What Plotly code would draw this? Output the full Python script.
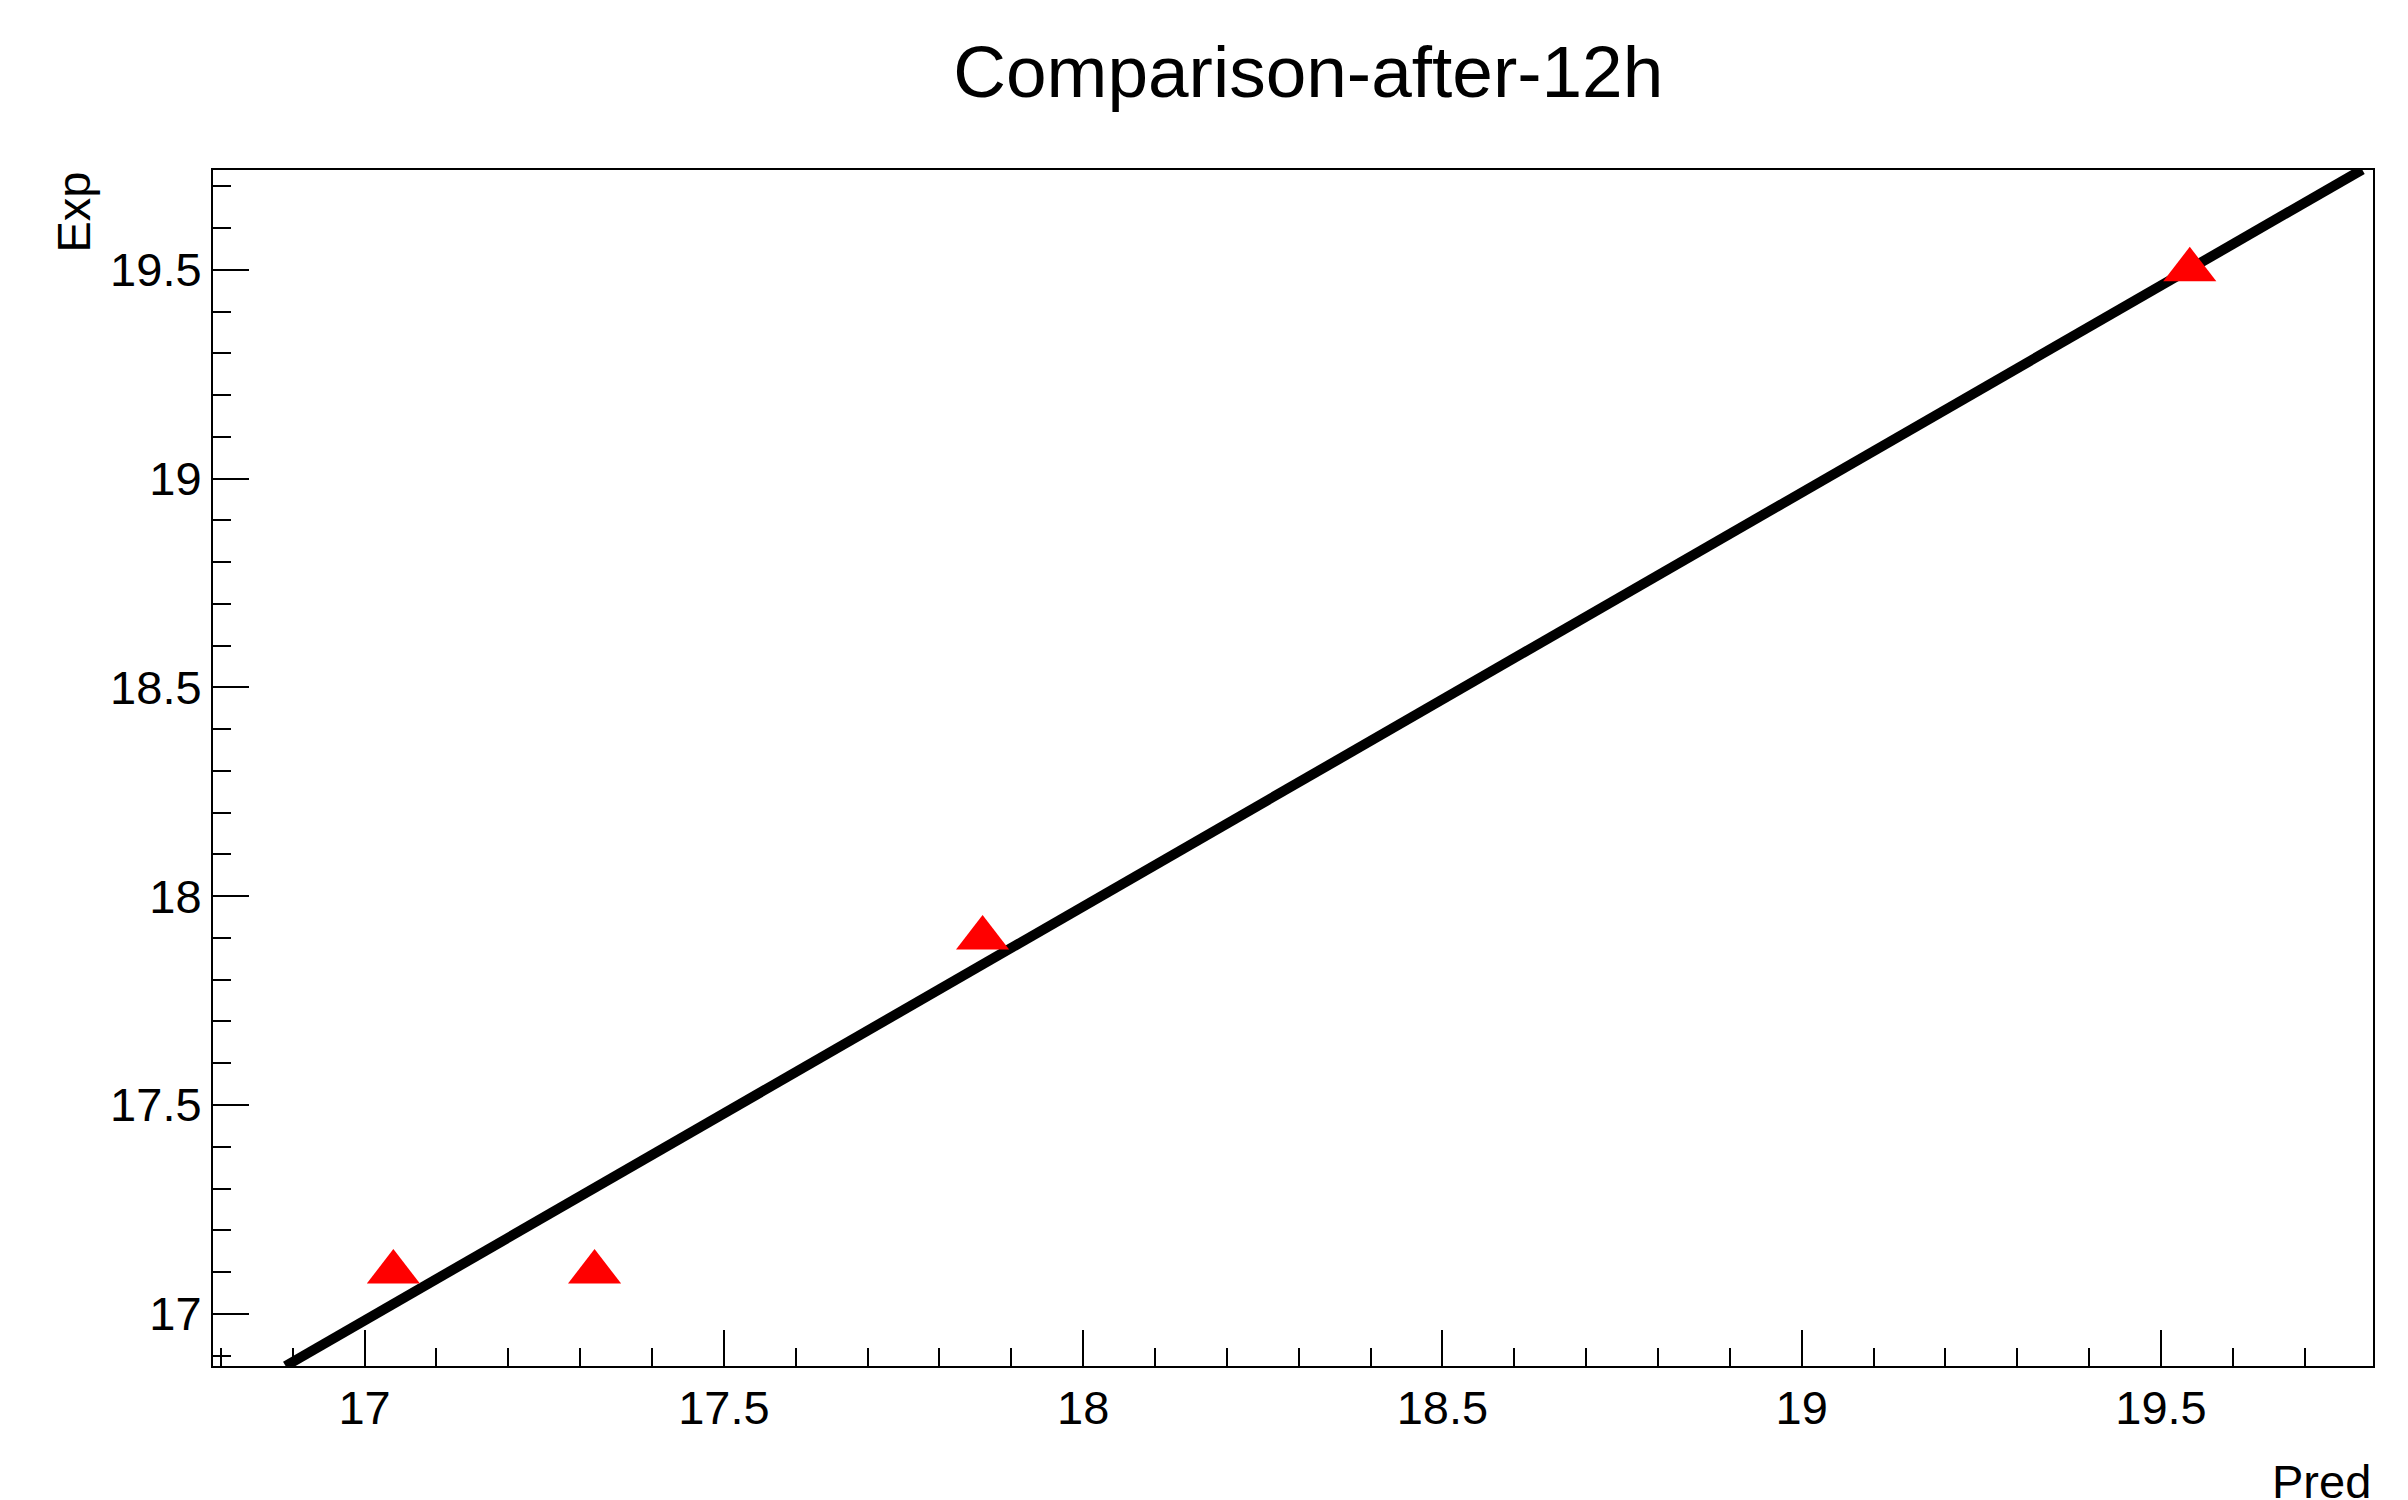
import plotly.graph_objects as go

pred = [17.04, 17.32, 17.86, 19.54]
exp = [17.1, 17.1, 17.9, 19.5]

line_x = [16.89, 19.78]
line_y = [16.875, 19.74]

x_ticks = [17, 17.5, 18, 18.5, 19, 19.5]
y_ticks = [17, 17.5, 18, 18.5, 19, 19.5]

fig = go.Figure()
fig.add_trace(go.Scatter(x=line_x, y=line_y, mode="lines",
                         line=dict(color="black", width=10), showlegend=False))
fig.add_trace(go.Scatter(x=pred, y=exp, mode="markers",
                         marker=dict(symbol="triangle-up", size=46, color="red"),
                         showlegend=False))

axis_common = dict(showgrid=False, zeroline=False, showline=True, linecolor="black",
                   linewidth=2, mirror=True, ticks="inside", ticklen=36, tickwidth=2,
                   tickcolor="black", tickfont=dict(size=47, color="black"),
                   minor=dict(ticks="inside", ticklen=18, dtick=0.1, tickwidth=2,
                              tickcolor="black", showgrid=False))

fig.update_xaxes(range=[16.789, 19.795], tickvals=x_ticks,
                 ticktext=[f"{v:g}" for v in x_ticks], **axis_common)
fig.update_yaxes(range=[16.875, 19.739], tickvals=y_ticks,
                 ticktext=[f"{v:g}" for v in y_ticks], **axis_common)

fig.update_layout(
    width=2408, height=1500,
    paper_bgcolor="white", plot_bgcolor="white",
    font=dict(family="Liberation Sans, Arial, sans-serif", color="black"),
    margin=dict(l=205, r=43, t=162, b=142),
    title=dict(text="Comparison-after-12h", x=0.54, xanchor="center", y=0.975,
               yanchor="top", font=dict(size=73)),
    annotations=[
        dict(text="Pred", xref="paper", yref="paper", x=1, y=-0.12, xanchor="right",
             yanchor="bottom", showarrow=False, font=dict(size=47)),
        dict(text="Exp", xref="paper", yref="paper", x=-0.078, y=1, xanchor="left",
             yanchor="top", textangle=-90, showarrow=False, font=dict(size=47)),
    ],
)

fig.write_html("out.html")
